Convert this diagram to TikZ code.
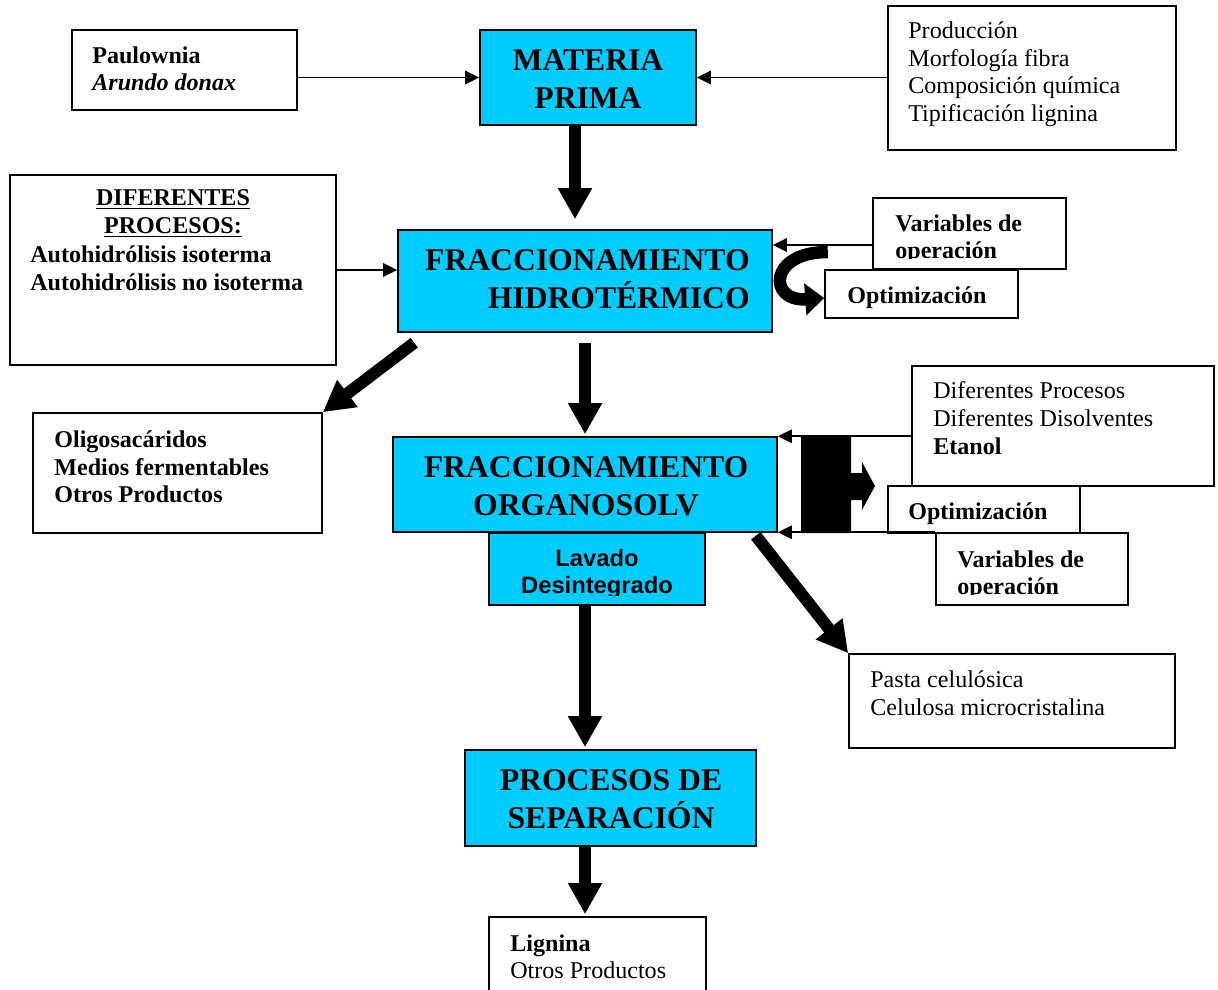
\documentclass[tikz,border=0pt]{standalone}
\usepackage{fontspec}
\setmainfont{Liberation Serif}
\setsansfont{Liberation Sans}
\usetikzlibrary{arrows.meta, positioning, fit, calc}
\definecolor{procblue}{RGB}{0,204,255}

\begin{document}
\begin{tikzpicture}[
    x=0.02cm, y=-0.02cm,
    box/.style={draw, line width=0.9pt, fill=white, inner sep=0pt},
    procbox/.style={box, fill=procblue},
    txt/.style={inner sep=0pt, align=left, anchor=north west, font=\fontsize{13.7}{15.9}\selectfont},
    proctxt/.style={inner sep=0pt, anchor=north, font=\fontsize{18}{21.6}\selectfont\bfseries},
    arrow/.style={-{Triangle[width=0.27cm,length=0.28cm]}, line width=0.9pt},
    bigarrow/.style={-{Triangle[width=0.64cm,length=0.62cm]}, line width=0.24cm}
]
\useasboundingbox (0,0) rectangle (1218,990);

% Raw material
\node[box, fit={(72,30) (297,110)}] (species) {};
\node[txt] (species-t) at (92,46) {\textbf{Paulownia}\\\textbf{\textit{Arundo donax}}};
\node[procbox, fit={(480,30) (696,125)}] (materia) {};
\node[proctxt, align=center] (materia-t) at (588,49) {MATERIA\\PRIMA};
\node[box, fit={(888,6) (1176,150)}] (charact) {};
\node[txt] (charact-t) at (908,21) {Producción\\Morfología fibra\\Composición química\\Tipificación lignina};

% Hydrothermal step
\node[box, fit={(10,175) (336,365)}] (procs) {};
\node[txt, anchor=north, align=center, font=\fontsize{13.7}{15.9}\selectfont\bfseries] (procs-h) at (173,189) {\underline{DIFERENTES}\\\underline{PROCESOS:}};
\node[txt, font=\fontsize{13.7}{15.9}\selectfont\bfseries] (procs-t) at (30,245) {Autohidrólisis isoterma\\Autohidrólisis no isoterma};
\node[procbox, fit={(398,230) (772,332)}] (hidro) {};
\node[proctxt, anchor=north east, align=right] (hidro-t) at (750,249) {FRACCIONAMIENTO\\HIDROTÉRMICO};
\node[box, fit={(873,198) (1066,269)}] (vars1) {};
\begin{scope}
  \clip (vars1.north west) rectangle ($(vars1.south east)+(0,-11)$);
  \node[txt, font=\fontsize{13.7}{15.9}\selectfont\bfseries] (vars1-t) at (895,214) {Variables de\\operación};
\end{scope}
\node[box, fit={(825,270) (1018,318)}] (opt1) {};
\node[txt, font=\fontsize{13.7}{15.9}\selectfont\bfseries] (opt1-t) at (847,286) {Optimización};
\node[box, fit={(33,413) (322,533)}] (oligo) {};
\node[txt, font=\fontsize{13.7}{15.9}\selectfont\bfseries] (oligo-t) at (54,430) {Oligosacáridos\\Medios fermentables\\Otros Productos};

% Organosolv step
\node[procbox, fit={(393,437) (777,532)}] (organo) {};
\node[proctxt, align=center] (organo-t) at (586,456) {FRACCIONAMIENTO\\ORGANOSOLV};
\node[procbox, fit={(489,533) (705,605)}] (lavado) {};
\begin{scope}
  \clip (lavado.north west) rectangle ($(lavado.south east)+(0,-10)$);
  \node[txt, anchor=north, align=center, font=\sffamily\fontsize{13.5}{15.4}\selectfont\bfseries] (lavado-t) at (597,549) {Lavado\\Desintegrado};
\end{scope}
\node[box, fit={(912,366) (1214,486)}] (solv) {};
\node[txt] (solv-t) at (933,381) {Diferentes Procesos\\Diferentes Disolventes\\\textbf{Etanol}};
\node[box, fit={(888,486) (1080,533)}] (opt2) {};
\node[txt, font=\fontsize{13.7}{15.9}\selectfont\bfseries] (opt2-t) at (908,502) {Optimización};
\node[box, fit={(936,533) (1128,605)}] (vars2) {};
\begin{scope}
  \clip (vars2.north west) rectangle ($(vars2.south east)+(0,-11)$);
  \node[txt, font=\fontsize{13.7}{15.9}\selectfont\bfseries] (vars2-t) at (957,550) {Variables de\\operación};
\end{scope}
\node[box, fit={(849,654) (1175,748)}] (pasta) {};
\node[txt] (pasta-t) at (870,670) {Pasta celulósica\\Celulosa microcristalina};

% Separation
\node[procbox, fit={(465,750) (756,846)}] (sep) {};
\node[proctxt, align=center] (sep-t) at (611,769) {PROCESOS DE\\SEPARACIÓN};
\node[box, fit={(489,917) (706,1000)}] (lignina) {};
\node[txt] (lignina-t) at (510,934) {\textbf{Lignina}\\Otros Productos};

% Thin arrows
\draw[arrow] (species.east |- materia.west) -- (materia.west);
\draw[arrow] (charact.west |- materia.east) -- (materia.east);
\draw[arrow] (procs.east |- 0,270) -- (hidro.west |- 0,270);
\draw[arrow] (vars1.west |- 0,245) -- (hidro.east |- 0,245);
\draw[arrow] (solv.west |- organo.north east) -- (organo.north east);
\draw[arrow] (vars2.north west) -- (organo.east |- vars2.north west);

% Thick arrows
\draw[bigarrow, shorten >=0.2cm] (materia.south -| 575,0) -- (hidro.north -| 575,0);
\draw[bigarrow, shorten <=0.2cm, shorten >=0.04cm] (hidro.south -| 585,0) -- (organo.north -| 585,0);
\draw[bigarrow] ($(hidro.south west)+(17,10)$) -- (oligo.north east);
\draw[bigarrow] ($(organo.south east)+(-22,3)$) -- (pasta.north west);
\draw[bigarrow, shorten >=0.04cm] (lavado.south -| 585,0) -- (sep.north -| 585,0);
\draw[bigarrow, shorten >=0.04cm] (sep.south -| 585,0) -- (lignina.north -| 585,0);

% Optimisation loops
\draw[line width=0.25cm, -{Triangle[width=0.62cm,length=0.38cm]}]
  ($(hidro.east)+(55,-29)$) .. controls (768,252) and (768,302) .. ([yshift=-0.08cm]opt1.west);
\fill (801,437) -- (851,437) -- (851,473) -- (862,473) -- (862,462) -- (875,486)
  -- (862,510) -- (862,500) -- (851,500) -- (851,533) -- (801,533) -- cycle;

\end{tikzpicture}
\end{document}
